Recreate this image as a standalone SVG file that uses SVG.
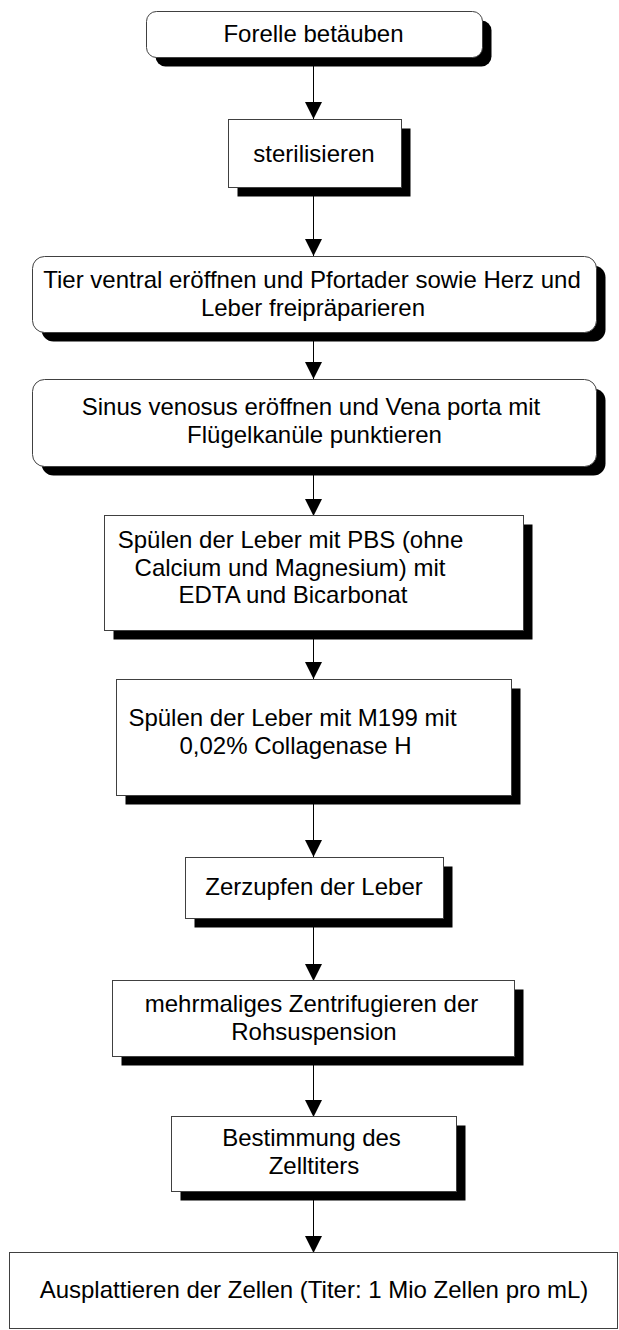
<svg xmlns="http://www.w3.org/2000/svg" width="619" height="1330" viewBox="0 0 619 1330">
<style>
.box{fill:#fff;stroke:#404040;stroke-width:1}
.sh{fill:#000}
.t{font-family:"Liberation Sans",Arial,sans-serif;font-size:24px;fill:#000;text-anchor:middle}
.c{stroke:#000;stroke-width:1;fill:none}
</style>
<defs>
<marker id="ah" markerWidth="18" markerHeight="17" refX="17" refY="8.5" orient="auto" markerUnits="userSpaceOnUse">
<path d="M0,0 L17,8.5 L0,17 Z" fill="#000"/>
</marker>
</defs>
<g id="connectors">
<line class="c" x1="313.5" y1="57" x2="313.5" y2="119" marker-end="url(#ah)"/>
<line class="c" x1="313.5" y1="187" x2="313.5" y2="256" marker-end="url(#ah)"/>
<line class="c" x1="313.5" y1="332" x2="313.5" y2="379" marker-end="url(#ah)"/>
<line class="c" x1="313.5" y1="466" x2="313.5" y2="516" marker-end="url(#ah)"/>
<line class="c" x1="313.5" y1="631" x2="313.5" y2="679" marker-end="url(#ah)"/>
<line class="c" x1="313.5" y1="795" x2="313.5" y2="857" marker-end="url(#ah)"/>
<line class="c" x1="313.5" y1="918" x2="313.5" y2="981" marker-end="url(#ah)"/>
<line class="c" x1="313.5" y1="1057" x2="313.5" y2="1117" marker-end="url(#ah)"/>
<line class="c" x1="313.5" y1="1192" x2="313.5" y2="1253" marker-end="url(#ah)"/>
</g>
<g id="n1">
<rect class="sh" x="155.5" y="20.5" width="336" height="46" rx="10"/>
<rect class="box" x="146.5" y="11.5" width="336" height="46" rx="10"/>
<text class="t" x="313.5" y="42">Forelle betäuben</text>
</g>
<g id="n2">
<rect class="sh" x="237.5" y="128.5" width="173" height="68"/>
<rect class="box" x="228.5" y="119.5" width="173" height="68"/>
<text class="t" x="314" y="162">sterilisieren</text>
</g>
<g id="n3">
<rect class="sh" x="41.5" y="265.5" width="564" height="76" rx="12"/>
<rect class="box" x="32.5" y="256.5" width="564" height="76" rx="12"/>
<text class="t" x="312" y="288">Tier ventral eröffnen und Pfortader sowie Herz und</text>
<text class="t" x="313" y="316">Leber freipräparieren</text>
</g>
<g id="n4">
<rect class="sh" x="41.5" y="388.5" width="564" height="87" rx="12"/>
<rect class="box" x="32.5" y="379.5" width="564" height="87" rx="12"/>
<text class="t" x="311" y="415">Sinus venosus eröffnen und Vena porta mit</text>
<text class="t" x="314.5" y="443">Flügelkanüle punktieren</text>
</g>
<g id="n5">
<rect class="sh" x="113.5" y="524.5" width="419" height="115"/>
<rect class="box" x="104.5" y="515.5" width="419" height="115"/>
<text class="t" x="290.5" y="548">Spülen der Leber mit PBS (ohne</text>
<text class="t" x="290" y="576">Calcium und Magnesium) mit</text>
<text class="t" x="293" y="603">EDTA und Bicarbonat</text>
</g>
<g id="n6">
<rect class="sh" x="125.5" y="688.5" width="395" height="116"/>
<rect class="box" x="116.5" y="679.5" width="395" height="116"/>
<text class="t" x="292.5" y="726">Spülen der Leber mit M199 mit</text>
<text class="t" x="295.5" y="754">0,02% Collagenase H</text>
</g>
<g id="n7">
<rect class="sh" x="194.5" y="866.5" width="258" height="61"/>
<rect class="box" x="185.5" y="857.5" width="258" height="61"/>
<text class="t" x="314" y="895">Zerzupfen der Leber</text>
</g>
<g id="n8">
<rect class="sh" x="121.5" y="989.5" width="402" height="76"/>
<rect class="box" x="112.5" y="980.5" width="402" height="76"/>
<text class="t" x="311.5" y="1012">mehrmaliges Zentrifugieren der</text>
<text class="t" x="314" y="1040">Rohsuspension</text>
</g>
<g id="n9">
<rect class="sh" x="180.5" y="1125.5" width="285" height="75"/>
<rect class="box" x="171.5" y="1116.5" width="285" height="75"/>
<text class="t" x="311.5" y="1146">Bestimmung des</text>
<text class="t" x="314" y="1174">Zelltiters</text>
</g>
<g id="n10">
<rect class="box" x="9.5" y="1252.5" width="608" height="76"/>
<text class="t" x="314" y="1298">Ausplattieren der Zellen (Titer: 1 Mio Zellen pro mL)</text>
</g>
</svg>
